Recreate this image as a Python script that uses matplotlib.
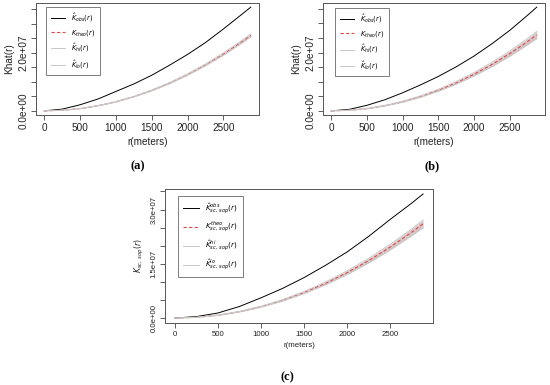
import numpy as np
import matplotlib.pyplot as plt

plt.rcParams['font.family'] = ['Liberation Sans', 'DejaVu Sans']
plt.rcParams['mathtext.fontset'] = 'dejavusans'

# distancia r (metros)
r = [0, 250, 500, 750, 1000, 1250, 1500, 1750, 2000, 2250, 2500, 2750, 2880]

# valores K en millones
k_theo = [0, 0.2, 0.79, 1.77, 3.14, 4.91, 7.07, 9.62, 12.57, 15.9, 19.63, 23.76, 26.06]

k_obs_a = [0, 0.6, 2.1, 4.1, 6.7, 9.3, 12.3, 15.8, 19.5, 23.6, 28.3, 33.2, 35.8]
k_hi_a = [0, 0.21, 0.81, 1.81, 3.2, 5.0, 7.2, 9.8, 12.8, 16.2, 20.0, 24.2, 26.5]
k_lo_a = [0, 0.19, 0.77, 1.73, 3.08, 4.82, 6.94, 9.44, 12.34, 15.6, 19.26, 23.32, 25.6]

k_obs_b = [0, 0.5, 1.9, 3.8, 6.2, 8.9, 11.8, 15.1, 18.8, 23.0, 27.6, 32.8, 35.6]
k_hi_b = [0, 0.22, 0.84, 1.87, 3.3, 5.15, 7.4, 10.06, 13.14, 16.62, 20.52, 24.84, 27.25]
k_lo_b = [0, 0.18, 0.74, 1.67, 2.98, 4.67, 6.74, 9.18, 12.0, 15.18, 18.74, 22.68, 24.87]

k_obs_c = [0, 0.4, 1.4, 3.2, 5.6, 8.2, 11.2, 14.6, 18.3, 22.6, 27.3, 31.8, 34.3]
k_hi_c = [0, 0.21, 0.83, 1.85, 3.27, 5.1, 7.35, 10.0, 13.07, 16.53, 20.4, 24.7, 27.1]
k_lo_c = [0, 0.19, 0.75, 1.69, 3.01, 4.72, 6.79, 9.24, 12.07, 15.27, 18.86, 22.82, 25.02]

xticks = [0, 500, 1000, 1500, 2000, 2500]

fig = plt.figure(figsize=(5.5, 3.85), dpi=100)
W, H = 550, 385


def panel(box, obs, hi, lo, yticks, ylabs, ylabel, leg_labels, fs, leg_fs, leg_pos, caption, cap_xy):
    x0, y0, x1, y1 = box
    ax = fig.add_axes([x0 / W, 1 - y1 / H, (x1 - x0) / W, (y1 - y0) / H])
    ax.fill_between(r, np.array(lo) * 1e6, np.array(hi) * 1e6, color='#d8c6c6', lw=0)
    ax.plot(r, np.array(obs) * 1e6, color='black', lw=0.7, label=leg_labels[0])
    ax.plot(r, np.array(k_theo) * 1e6, color='#e04848', lw=0.8, ls=(0, (3, 2)), label=leg_labels[1])
    ax.plot(r, np.array(hi) * 1e6, color='#c8c8c8', lw=0.7, label=leg_labels[2])
    ax.plot(r, np.array(lo) * 1e6, color='#c8c8c8', lw=0.7, label=leg_labels[3])
    ax.margins(x=0.04, y=0.04)
    ax.set_xticks(xticks)
    ax.set_xticklabels([str(v) for v in xticks], fontsize=fs)
    ax.set_yticks(yticks)
    ax.set_yticklabels(ylabs, fontsize=fs, rotation=90, va='center')
    ax.tick_params(length=3.5, width=0.6, colors='#444444', pad=2)
    for lab in ax.get_xticklabels() + ax.get_yticklabels():
        lab.set_color('#222222')
    for s in ax.spines.values():
        s.set_color('#555555')
        s.set_linewidth(0.7)
    ax.set_xlabel('r(meters)', fontsize=fs, color='#222222', labelpad=3)
    ax.set_ylabel(ylabel, fontsize=fs, color='#222222', labelpad=3)
    leg = ax.legend(loc='upper left', bbox_to_anchor=leg_pos, fontsize=leg_fs, frameon=True,
                    fancybox=False, edgecolor='#444444', handlelength=2.2, borderpad=0.7,
                    labelspacing=0.6, handletextpad=0.8, borderaxespad=0)
    leg.get_frame().set_linewidth(0.6)
    fig.text(cap_xy[0] / W, 1 - cap_xy[1] / H, caption, fontsize=9, fontweight='bold',
             family='Liberation Serif', ha='center', va='center')
    return ax


yt_ab = [i * 5e6 for i in range(8)]
yl_ab = ['0.0e+00', '', '', '', '2.0e+07', '', '', '']
labs_ab = [r'$\hat{K}_{obs}(r)$', r'$K_{theo}(r)$', r'$\hat{K}_{hi}(r)$', r'$\hat{K}_{lo}(r)$']

panel((36, 3, 259, 115), k_obs_a, k_hi_a, k_lo_a, yt_ab, yl_ab, 'Khat(r)', labs_ab,
      7.2, 4.8, (0.045, 0.965), '(a)', (138, 166))
panel((323, 3, 545, 115), k_obs_b, k_hi_b, k_lo_b, yt_ab, yl_ab, 'Khat(r)', labs_ab,
      7.2, 4.8, (0.054, 0.955), '(b)', (432, 166))

yl_c = ['0.0e+00', '', '', '1.5e+07', '', '', '3.0e+07', '']
labs_c = [r'$\hat{K}^{obs}_{sc,\,sop}(r)$', r'$K^{theo}_{sc,\,sop}(r)$',
          r'$\hat{K}^{hi}_{sc,\,sop}(r)$', r'$\hat{K}^{lo}_{sc,\,sop}(r)$']
panel((165, 189, 433, 323), k_obs_c, k_hi_c, k_lo_c, yt_ab, yl_c, r'$K_{sc,\,sop}(r)$', labs_c,
      5.6, 5.2, (0.049, 0.948), '(c)', (287, 377))

fig.savefig('out.png', dpi=100)
